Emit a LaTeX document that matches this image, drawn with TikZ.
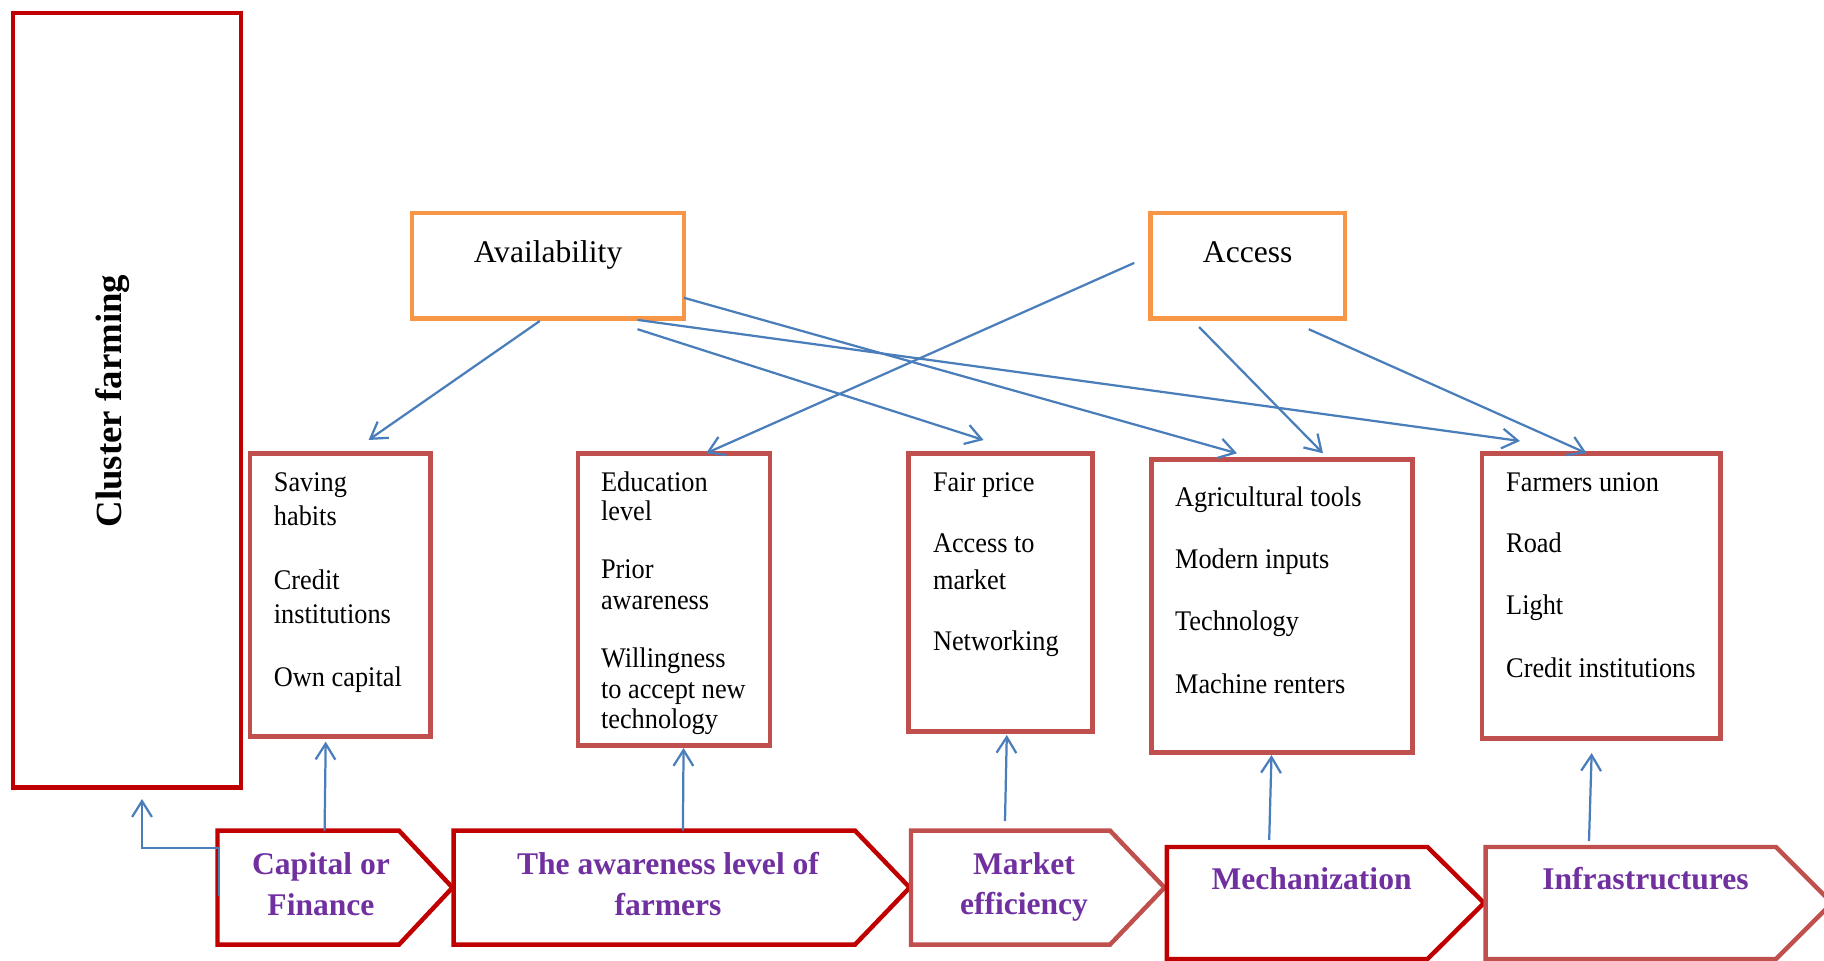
\documentclass[tikz,border=0pt]{standalone}
\usepackage{fontspec}
\usepackage{graphicx}
\setmainfont{Liberation Serif}
\usetikzlibrary{arrows.meta}
\definecolor{darkred}{HTML}{C00000}
\definecolor{softred}{HTML}{C0504D}
\definecolor{orng}{HTML}{F79646}
\definecolor{linkblue}{HTML}{4A7EBB}
\definecolor{labelpurple}{HTML}{7030A0}
\def\pxu{0.38pt}
% list entries are set slightly taller than wide
\newcommand\itm[1]{\scalebox{1}[1.08]{#1}}
\begin{document}
\begin{tikzpicture}[x=0.38pt,y=-0.38pt,
  frame/.style={draw, line width=1.7pt, inner sep=0pt, outer sep=0pt},
  item/.style={anchor=base west, inner sep=0pt, font=\fontsize{10}{12}\selectfont},
  head/.style={anchor=base, inner sep=0pt, font=\fontsize{12}{14}\selectfont},
  tag/.style={anchor=base, inner sep=0pt, text=labelpurple, font=\fontsize{12}{14}\selectfont\bfseries},
  chev/.style={line width=1.7pt, line join=miter},
  link/.style={draw=linkblue, line width=0.85pt, -{Straight Barb[length=6pt,width=7.5pt]}},
]
\path[use as bounding box, clip] (0,0) rectangle (1824,961);

% main outcome box
\node[frame, draw=darkred, minimum width=228*\pxu, minimum height=774.8*\pxu] (clu) at (126.8,400.2) {};
\node[rotate=90, anchor=base, inner sep=0pt, font=\fontsize{14}{16}\selectfont\bfseries] (clut) at (121.5,401) {Cluster farming};

% availability and access
\node[frame, draw=orng, minimum width=272.2*\pxu, minimum height=105.8*\pxu] (avl) at (547.9,265.8) {};
\node[head] (avlt) at (548,262) {Availability};
\node[frame, draw=orng, minimum width=194.3*\pxu, minimum height=105.8*\pxu] (acc) at (1247.7,265.8) {};
\node[head] (acct) at (1247.7,262) {Access};

% factor boxes
\node[frame, draw=softred, minimum width=180.4*\pxu, minimum height=282.7*\pxu] (sav) at (340.2,595) {};
\node[item] (s1) at (273.4,491.7) {\itm{Saving}};
\node[item] (s2) at (273.4,525.7) {\itm{habits}};
\node[item] (s3) at (273.4,589) {\itm{Credit}};
\node[item] (s4) at (273.4,623) {\itm{institutions}};
\node[item] (s5) at (273.4,686) {\itm{Own capital}};

\node[frame, draw=softred, minimum width=191.9*\pxu, minimum height=292*\pxu] (edu) at (674.2,599.7) {};
\node[item] (e1) at (600.5,491.7) {\itm{Education}};
\node[item] (e2) at (600.5,520.7) {\itm{level}};
\node[item] (e3) at (600.5,578) {\itm{Prior}};
\node[item] (e4) at (600.5,609) {\itm{awareness}};
\node[item] (e5) at (600.5,667) {\itm{Willingness}};
\node[item] (e6) at (600.5,698) {\itm{to accept new}};
\node[item] (e7) at (600.5,728) {\itm{technology}};

\node[frame, draw=softred, minimum width=183.8*\pxu, minimum height=278*\pxu] (fai) at (1000.4,592.7) {};
\node[item] (f1) at (932.5,491) {\itm{Fair price}};
\node[item] (f2) at (932.5,552.7) {\itm{Access to}};
\node[item] (f3) at (932.5,589) {\itm{market}};
\node[item] (f4) at (932.5,650) {\itm{Networking}};

\node[frame, draw=softred, minimum width=260.6*\pxu, minimum height=293.2*\pxu] (agr) at (1282,606.1) {};
\node[item] (g1) at (1174.6,506.7) {\itm{Agricultural tools}};
\node[item] (g2) at (1174.6,568) {\itm{Modern inputs}};
\node[item] (g3) at (1174.6,630) {\itm{Technology}};
\node[item] (g4) at (1174.6,693) {\itm{Machine renters}};

\node[frame, draw=softred, minimum width=238.5*\pxu, minimum height=285*\pxu] (frm) at (1601.2,596.2) {};
\node[item] (r1) at (1505.7,491) {\itm{Farmers union}};
\node[item] (r2) at (1505.7,552.7) {\itm{Road}};
\node[item] (r3) at (1505.7,614) {\itm{Light}};
\node[item] (r4) at (1505.7,677) {\itm{Credit institutions}};

% chevron process steps
\draw[chev, darkred] (217.5,830.6) -- (399,830.6) -- (452.5,887.6) -- (399,944.6) -- (217.5,944.6) -- cycle;
\draw[chev, darkred] (453.7,830.6) -- (855,830.6) -- (909.7,887.6) -- (855,944.6) -- (453.7,944.6) -- cycle;
\draw[chev, softred] (911,830.6) -- (1110,830.6) -- (1164.5,887.6) -- (1110,944.6) -- (911,944.6) -- cycle;
\draw[chev, darkred] (1166.8,847) -- (1427.5,847) -- (1484,903) -- (1427.5,959) -- (1166.8,959) -- cycle;
\draw[chev, softred] (1485.5,847) -- (1776,847) -- (1832,903) -- (1776,959) -- (1485.5,959) -- cycle;

\node[tag] (cap1) at (321,874) {Capital or};
\node[tag] (cap2) at (321,915) {Finance};
\node[tag] (awr1) at (668,874) {The awareness level of};
\node[tag] (awr2) at (668,915) {farmers};
\node[tag] (mkt1) at (1024,874) {Market};
\node[tag] (mkt2) at (1024,914) {efficiency};
\node[tag] (mec) at (1311.6,889) {Mechanization};
\node[tag] (inf) at (1645.5,889) {Infrastructures};

% connector start points on the process steps
\coordinate (k0) at (219,896);
\coordinate (k1) at (219,848);
\coordinate (c1) at (324.6,830.6);
\coordinate (c2) at (682.9,830.6);
\coordinate (c3) at (1005,821);
\coordinate (c4) at (1269.2,840);
\coordinate (c5) at (1589,841);

% links from availability
\draw[link] ([shift={(128,2.3)}]avl.south west) -- ([shift={(118.6,-13.7)}]sav.north west);
\draw[link] ([shift={(225.7,10.5)}]avl.south west) -- ([shift={(75.1,-13.7)}]fai.north west);
\draw[link] ([shift={(0,-20.9)}]avl.south east) -- ([shift={(85.3,-6.2)}]agr.north west);
\draw[link] ([shift={(225.7,1.2)}]avl.south west) -- ([shift={(38,-12.7)}]frm.north west);

% links from access
\draw[link] ([shift={(-16.3,-2.9)}]acc.west) -- ([shift={(127.8,-0.4)}]edu.north west);
\draw[link] ([shift={(48.5,8.3)}]acc.south west) -- ([shift={(171.3,-6.2)}]agr.north west);
\draw[link] ([shift={(158.2,10.5)}]acc.south west) -- ([shift={(104.7,-0.4)}]frm.north west);

% links from the process steps
\draw[link] (c1) -- ([shift={(75.7,5.3)}]sav.south west);
\draw[link] (c2) -- ([shift={(105.3,2.3)}]edu.south west);
\draw[link] (c3) -- ([shift={(98.3,3.3)}]fai.south west);
\draw[link] (c4) -- ([shift={(119.8,2.3)}]agr.south west);
\draw[link] (c5) -- ([shift={(109.7,14.3)}]frm.south west);
\draw[link] (k0) -- (k1) -| ([shift={(129.2,11.4)}]clu.south west);
\end{tikzpicture}
\end{document}
